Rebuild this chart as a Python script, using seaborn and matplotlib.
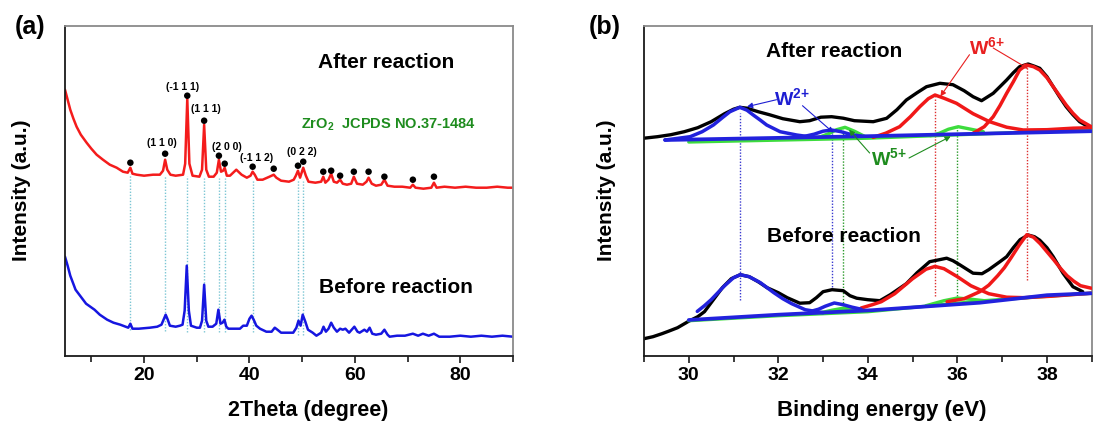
import numpy as np
import matplotlib
matplotlib.use("Agg")
import matplotlib.pyplot as plt
import seaborn as sns

# ---------------- Panel (a): XRD data (2theta, intensity a.u.) ----------------
red_after = [(5.0,266),(5.5,256),(6.0,246),(6.6,237),(7.2,229),(8.0,221),(9.1,213),(10.0,207),(11.0,201),(12.2,196),
 (13.5,191),(14.8,188),(16.0,184),(16.9,183),(17.4,188),(17.8,182),(18.6,181),(20.0,180),(21.7,181),(23.0,181),
 (23.6,185),(24.0,196),(24.4,186),(25.0,181),(26.0,180),(27.4,181),(27.8,192),(28.2,257),(28.6,192),(29.2,180),
 (30.5,179),(31.0,186),(31.4,231),(31.8,186),(32.3,179),(33.2,179),(33.8,183),(34.2,196),(34.6,184),(35.0,185),
 (35.3,188),(35.7,180),(36.3,180),(37.5,186),(38.5,181),(39.5,178),(40.2,180),(40.6,184),(41.0,181),(41.5,176),
 (42.5,176),(43.8,179),(44.6,181),(45.1,178),(46.0,175),(47.5,174),(48.4,176),(48.8,180),(49.2,185),(49.6,178),
 (50.2,188),(50.7,180),(51.2,174),(52.5,173),(53.6,174),(54.0,179),(54.4,173),(55.0,176),(55.5,182),(56.0,174),
 (56.6,173),(57.2,176),(57.7,172),(58.5,171),(59.3,172),(59.8,179),(60.4,172),(61.5,171),(62.2,174),(62.6,178),
 (63.2,172),(64.0,170),(65.0,171),(65.6,176),(66.2,170),(67.5,169),(69.0,169),(70.5,168),(71.0,171),(71.5,168),
 (73.0,167),(74.5,168),(75.0,173),(75.5,168),(77.0,169),(79.0,168),(81.0,169),(83.0,168),(85.0,168),(87.0,169),
 (89.0,168),(90.0,168)]

blue_before = [(5.0,99),(5.5,90),(6.0,80),(7.0,66),(8.0,59),(9.0,52),(10.6,46),(11.6,41),(13.0,36),(14.2,33),
 (15.5,31),(17.0,28),(17.4,32),(17.8,27),(19.0,27),(21.1,28),(22.5,29),(23.3,31),(23.7,36),(24.1,41),(24.5,36),
 (24.9,30),(26.0,29),(26.8,30),(27.3,31),(27.7,45),(28.1,90),(28.5,45),(28.9,30),(30.0,28),(30.6,28),(31.0,35),
 (31.4,71),(31.8,35),(32.2,29),(33.0,29),(33.7,32),(34.1,46),(34.5,32),(34.9,33),(35.25,36),(35.6,29),(36.0,27),
 (37.0,27),(38.2,27),(38.8,30),(39.5,30),(40.0,37),(40.4,40),(40.8,36),(41.3,30),(42.0,27),(43.2,24),(44.2,24),
 (44.8,28),(45.3,26),(46.0,23),(47.0,23),(48.3,23),(48.9,28),(49.3,35),(49.7,30),(50.1,41),(50.6,34),(51.1,26),
 (52.0,23),(52.7,20),(53.6,23),(54.05,29),(54.5,24),(55.0,27),(55.5,33),(56.0,28),(56.6,24),(57.2,27),(57.7,26),
 (58.2,27),(58.9,23),(59.9,29),(60.5,24),(60.9,23),(61.5,25),(61.8,26),(62.3,24),(62.8,28),(63.3,22),(64.0,21),
 (65.0,22),(65.6,26),(66.2,21),(66.6,19),(68.0,20),(69.5,20),(71.0,22),(72.0,20),(72.9,22),(74.0,20),(75.0,22),
 (76.0,19),(78.0,19),(80.0,20),(82.0,19),(84.0,20),(86.0,19),(88.0,20),(90.0,19)]

dot_x = [17.4, 24.0, 28.2, 31.4, 34.2, 35.3, 40.6, 44.6, 49.2, 50.2, 54.0, 55.5, 57.2, 59.8, 62.6, 65.6, 71.0, 75.0]
dot_y = [193, 202, 260, 235, 200, 192, 189, 187, 190, 194, 184, 185, 180, 184, 184, 179, 176, 179]

hkl_labels = ['(1 1 0)', '(-1 1 1)', '(1 1 1)', '(2 0 0)', '(-1 1 2)', '(0 2 2)']
hkl_x = [23.3, 27.3, 31.7, 35.7, 41.3, 50.0]
hkl_y = [213, 269, 247, 209, 198, 204]

ref_x = [17.4, 24.0, 28.2, 31.4, 34.2, 35.3, 40.6, 49.2, 50.2]
ref_top = [182, 180, 180, 178, 178, 178, 176, 176, 175]
ref_bot = [26, 25, 24, 24, 24, 24, 24, 21, 21]

# ---------------- Panel (b): XPS W4f data (binding energy, intensity a.u.) ----------------
after_exp = [(29.0,217.5),(29.3,219),(29.6,221),(29.9,224),(30.2,228),(30.5,234),(30.8,242),(31.0,246.5),(31.14,248.4),
 (31.3,247.5),(31.55,244),(31.8,241),(32.1,237),(32.48,234),(32.7,235),(32.95,238.5),(33.19,239),(33.45,237.5),
 (33.7,235),(34.12,234),(34.42,237.4),(34.65,246),(34.86,255.7),(35.1,263),(35.31,269),(35.61,272.4),(35.9,271),
 (36.15,265),(36.35,259),(36.54,255),(36.8,262.4),(36.95,269),(37.1,275.7),(37.25,283),(37.39,289),(37.58,291.7),
 (37.72,289.5),(37.84,287.4),(38.0,279),(38.14,269),(38.28,259),(38.43,249),(38.58,241),(38.73,234),(38.99,227.4)]
after_w2_a = [(29.47,215.7),(30.03,219),(30.3,224),(30.55,230.7),(30.75,238),(30.92,244),(31.14,248.4),(31.3,245.5),
 (31.44,240.7),(31.6,235.5),(31.74,230.7),(32.04,224),(32.41,220.7),(32.78,218.4)]
after_w2_b = [(32.5,218.5),(32.8,221.5),(33.0,224.5),(33.19,225.7),(33.4,224),(33.6,221.5),(33.85,219.5)]
after_bg_blue = [(29.47,215.7),(34.0,219.5),(38.99,224.5)]
after_bg_green = [(30.0,213.7),(34.0,217.5),(38.99,226)]
after_w5_a = [(32.9,218.2),(33.15,222.5),(33.3,226),(33.49,228.4),(33.7,224.5),(33.97,218.4)]
after_w5_b = [(35.4,220),(35.6,222.5),(35.8,226.5),(36.02,229),(36.3,226.5),(36.58,224)]
after_w6_a = [(34.12,218.4),(34.4,222.5),(34.71,229),(34.95,239),(35.16,249),(35.35,257),(35.5,260.7),(35.7,257.5),
 (35.98,252.4),(36.35,242),(36.72,234),(37.1,228.5),(37.47,225.7),(38.0,226),(38.58,227.5),(38.99,228)]
after_w6_b = [(36.35,222.4),(36.6,229),(36.8,239),(36.95,250),(37.1,262.4),(37.25,274),(37.39,285.7),(37.54,290.7),
 (37.7,289),(37.84,285.7),(38.0,278),(38.14,269),(38.29,259.5),(38.43,250.7),(38.58,242.5),(38.73,235.7),(38.99,229)]

before_exp = [(29.0,17),(29.2,19),(29.4,22),(29.55,24.5),(29.75,28),(30.0,34.5),(30.2,39),(30.35,44),(30.55,56),
 (30.75,68),(30.95,77),(31.15,81),(31.35,79),(31.55,74),(31.75,68),(32.0,63),(32.2,58),(32.48,52.5),(32.7,53),
 (32.85,58),(33.0,64),(33.2,66),(33.45,65),(33.6,60),(33.75,57.5),(34.0,56),(34.27,55),(34.5,61),(34.86,72),
 (35.1,83),(35.38,94),(35.6,96),(35.76,97.5),(35.9,95),(36.05,91),(36.35,82.5),(36.55,82),(36.7,86),(36.95,94),
 (37.1,99),(37.25,108),(37.4,116),(37.58,120.7),(37.72,119),(37.84,115.5),(38.0,108),(38.14,99),(38.36,82.5),
 (38.58,69),(38.8,64)]
before_w2_a = [(30.19,44.3),(30.35,50),(30.5,56),(30.65,63),(30.8,70),(31.0,78),(31.15,81),(31.35,79),(31.6,73),
 (31.9,63),(32.1,57),(32.3,52),(32.6,46),(33.0,43)]
before_w2_b = [(32.7,44),(32.9,46.5),(33.05,49.5),(33.25,52.7),(33.45,51),(33.65,48.5),(33.85,46.5)]
before_bg_blue = [(30.0,35.7),(32.0,41),(34.1,45.5),(36.5,53),(38.0,60.5),(38.99,62.4)]
before_bg_green = [(30.0,35),(32.0,40),(34.0,44),(36.6,55),(38.99,62.5)]
before_w5_a = [(32.9,42.5),(33.2,45.5),(33.45,47.5),(33.7,46.5),(33.95,45)]
before_w5_b = [(35.3,50),(35.5,52.5),(35.7,55),(36.0,57.7),(36.3,56.5),(36.6,55)]
before_w6_a = [(33.85,47.7),(34.1,51),(34.3,54),(34.6,62),(34.8,69.5),(35.0,77),(35.3,86.5),(35.5,89.3),(35.7,87),
 (36.0,79),(36.3,70),(36.7,62),(37.1,58.5),(37.5,58),(38.1,59.5),(38.99,62.5)]
before_w6_b = [(35.77,54),(36.15,57),(36.5,64),(36.7,70.5),(36.9,80),(37.05,88),(37.2,98),(37.38,110.5),(37.55,121),
 (37.7,118.5),(37.85,112),(38.0,104),(38.15,96),(38.3,87.5),(38.45,80),(38.6,74.5),(38.75,70),(38.99,67.5)]

vl_x = [31.15, 33.2, 33.45, 35.5, 36.0, 37.55]
vl_top = [243, 223, 229, 259, 229, 289]
vl_bot = [56, 66, 44, 60, 57, 76]
vl_colors = ['#3a3ad0', '#3a3ad0', '#2a9a2a', '#dd3030', '#2a9a2a', '#dd3030']

species = [r'W$^{2{+}}$', r'W$^{6{+}}$', r'W$^{5{+}}$']
species_x = [32.3, 36.65, 34.46]
species_y = [258, 309, 198]
species_colors = ['#1e1ed2', '#e82020', '#1e8c1e']
arrow_tail = [[(31.96, 256), (32.54, 250)], [(36.27, 301), (36.8, 307.7)], [(34.04, 202.7), (34.92, 197.7)]]
arrow_head = [[(31.3, 249), (33.23, 223)], [(35.62, 259.3), (37.58, 287)], [(33.58, 226), (35.85, 219.3)]]

# ---------------- Styling ----------------
sns.set_theme(style="ticks")
plt.rcParams['font.family'] = ['Liberation Sans', 'DejaVu Sans']
plt.rcParams['font.weight'] = 'bold'
plt.rcParams['axes.labelweight'] = 'bold'
plt.rcParams['text.color'] = 'black'
plt.rcParams['axes.labelcolor'] = 'black'
plt.rcParams['xtick.color'] = 'black'
plt.rcParams['mathtext.fontset'] = 'custom'
plt.rcParams['mathtext.bf'] = 'Liberation Sans:bold'
plt.rcParams['mathtext.rm'] = 'Liberation Sans:bold'
plt.rcParams['mathtext.default'] = 'bf'

W, H = 1093, 425
fig = plt.figure(figsize=(W / 100, H / 100), dpi=100)
bottom = 1 - 355.7 / H
height = 330 / H
ax1 = fig.add_axes([65 / W, bottom, 448 / W, height])
ax2 = fig.add_axes([644 / W, bottom, 447.7 / W, height])

def line(ax, pts, color, lw, z=2):
    a = np.array(pts, dtype=float)
    sns.lineplot(x=a[:, 0], y=a[:, 1], ax=ax, color=color, lw=lw, estimator=None,
                 sort=False, legend=False, zorder=z)

def style_axes(ax):
    for s in ['left', 'bottom']:
        ax.spines[s].set_color('#1a1a1a')
        ax.spines[s].set_linewidth(1.3)
    for s in ['top', 'right']:
        ax.spines[s].set_color('#8a8a8a')
        ax.spines[s].set_linewidth(1.3)
    ax.set_yticks([])
    ax.tick_params(axis='x', which='major', direction='out', length=5, width=1.2,
                   color='#1a1a1a', labelcolor='black', labelsize=14, pad=3)
    ax.tick_params(axis='x', which='minor', direction='out', length=4, width=1.2, color='#1a1a1a')
    for lab in ax.get_xticklabels():
        lab.set_fontweight('bold')

# ---- Panel (a)
ax1.vlines(ref_x, ref_bot, ref_top, colors='#7cc6d4', linestyles=(0, (1, 1.2)), lw=1.0, zorder=1)
line(ax1, red_after, '#f41c1c', 1.8)
line(ax1, blue_before, '#1616e0', 1.8)
sns.scatterplot(x=dot_x, y=dot_y, ax=ax1, color='black', s=22, edgecolor='none', zorder=4, legend=False)
for t, x, y in zip(hkl_labels, hkl_x, hkl_y):
    ax1.text(x, y, t, fontsize=7.5, fontweight='bold', ha='center', va='center', color='black')
ax1.text(66.0, 293, 'After reaction', fontsize=15, fontweight='bold', ha='center', va='center', color='black')
ax1.text(67.8, 68, 'Before reaction', fontsize=15, fontweight='bold', ha='center', va='center', color='black')
ax1.text(66.4, 231, r'ZrO$_2$  JCPDS NO.37-1484', fontsize=10.5, fontweight='bold', ha='center',
         va='center', color='#1e8c1e')
ax1.set_xlim(5, 90)
ax1.set_ylim(0, 330)
ax1.set_xticks([20, 40, 60, 80])
ax1.set_xticks([10, 30, 50, 70, 90], minor=True)
style_axes(ax1)
ax1.set_xlabel('2Theta (degree)', fontsize=15.5, fontweight='bold', color='black')
ax1.set_ylabel('Intensity (a.u.)', fontsize=15, fontweight='bold', color='black')
ax1.xaxis.set_label_coords(0.542, -0.135)
ax1.yaxis.set_label_coords(-0.075, 0.5)

# ---- Panel (b)
for x, t, b, c in zip(vl_x, vl_top, vl_bot, vl_colors):
    ax2.vlines(x, b, t, colors=c, linestyles=(0, (1, 1.2)), lw=1.0, zorder=1)
for grp_w6, grp_w5, grp_w2, bgb, bgg, exp in [
        ((after_w6_a, after_w6_b), (after_w5_a, after_w5_b), (after_w2_a, after_w2_b), after_bg_blue, after_bg_green, after_exp),
        ((before_w6_a, before_w6_b), (before_w5_a, before_w5_b), (before_w2_a, before_w2_b), before_bg_blue, before_bg_green, before_exp)]:
    line(ax2, exp, 'black', 2.4, z=2)
    line(ax2, bgg, '#3ddc3d', 2.4, z=3)
    for p in grp_w5:
        line(ax2, p, '#3ddc3d', 2.4, z=3)
    for p in grp_w6:
        line(ax2, p, '#f01818', 2.5, z=3)
    line(ax2, bgb, '#2222dd', 2.7, z=4)
    for p in grp_w2:
        line(ax2, p, '#2222dd', 2.5, z=4)

for lab, x, y, c, tails, heads in zip(species, species_x, species_y, species_colors, arrow_tail, arrow_head):
    ax2.text(x, y, lab, fontsize=14, ha='center', va='center', color=c, zorder=6)
    for tl, hd in zip(tails, heads):
        ax2.annotate('', xy=hd, xytext=tl,
                     arrowprops=dict(arrowstyle='-|>', color=c, lw=0.8, mutation_scale=8,
                                     shrinkA=0, shrinkB=0), zorder=6)

ax2.text(33.25, 304, 'After reaction', fontsize=15, fontweight='bold', ha='center', va='center', color='black')
ax2.text(33.46, 119, 'Before reaction', fontsize=15, fontweight='bold', ha='center', va='center',
         color='black', zorder=7)
ax2.set_xlim(29, 39)
ax2.set_ylim(0, 330)
ax2.set_xticks([30, 32, 34, 36, 38])
ax2.set_xticks([29, 31, 33, 35, 37, 39], minor=True)
style_axes(ax2)
ax2.set_xlabel('Binding energy (eV)', fontsize=16, fontweight='bold', color='black')
ax2.set_ylabel('Intensity (a.u.)', fontsize=15, fontweight='bold', color='black')
ax2.xaxis.set_label_coords(0.531, -0.135)
ax2.yaxis.set_label_coords(-0.062, 0.5)

fig.text(30 / W, 1 - 27 / H, '(a)', fontsize=18, fontweight='bold', ha='center', va='center', color='black')
fig.text(605 / W, 1 - 27 / H, '(b)', fontsize=18, fontweight='bold', ha='center', va='center', color='black')

fig.savefig('out.png', dpi=100)
